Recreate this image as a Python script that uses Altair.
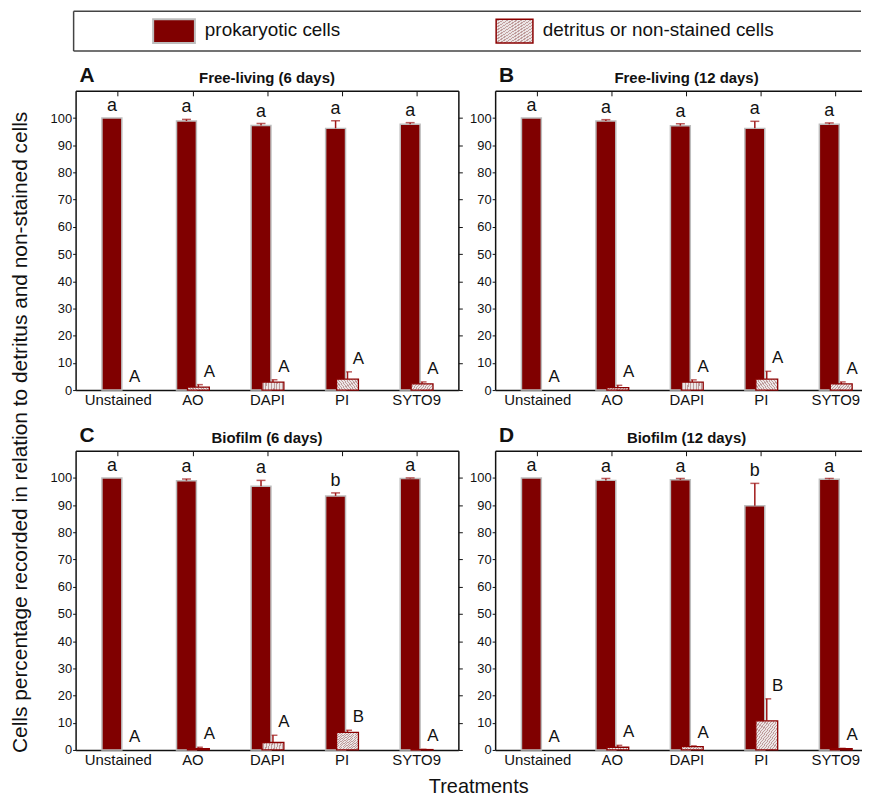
import json
import altair as alt
import pandas as pd

# ---------------- data ----------------
CATEGORIES = ["Unstained", "AO", "DAPI", "PI", "SYTO9"]
SERIES = ["prokaryotic cells", "detritus or non-stained cells"]
PANELS = ["A", "B", "C", "D"]
TITLES = ["Free-living (6 days)", "Free-living (12 days)", "Biofilm (6 days)", "Biofilm (12 days)"]
Y_TICKS = [0, 10, 20, 30, 40, 50, 60, 70, 80, 90, 100]

PROK_MEAN = {
    "A": [100, 98.9, 97.3, 96.2, 97.7],
    "B": [100, 98.9, 97.2, 96.2, 97.7],
    "C": [100, 99.0, 96.9, 93.4, 99.8],
    "D": [100, 99.1, 99.3, 89.8, 99.5],
}
PROK_UPPER = {
    "A": [100, 99.5, 98.0, 99.0, 98.3],
    "B": [100, 99.4, 97.9, 98.8, 98.2],
    "C": [100, 99.6, 99.1, 94.5, 100.0],
    "D": [100, 99.8, 99.8, 98.0, 99.8],
}
DET_MEAN = {
    "A": [0, 1.1, 2.9, 4.0, 2.3],
    "B": [0, 0.9, 2.9, 4.0, 2.25],
    "C": [0, 0.5, 2.75, 6.5, 0.15],
    "D": [0, 1.0, 1.2, 10.7, 0.5],
}
DET_UPPER = {
    "A": [0, 2.0, 3.8, 6.7, 3.0],
    "B": [0, 1.75, 3.75, 6.9, 3.0],
    "C": [0, 1.0, 5.4, 7.25, 0.25],
    "D": [0, 1.7, 1.5, 18.8, 0.6],
}
PROK_LETTERS = {
    "A": ["a", "a", "a", "a", "a"],
    "B": ["a", "a", "a", "a", "a"],
    "C": ["a", "a", "a", "b", "a"],
    "D": ["a", "a", "a", "b", "a"],
}
DET_LETTERS = {
    "A": ["A", "A", "A", "A", "A"],
    "B": ["A", "A", "A", "A", "A"],
    "C": ["A", "A", "A", "B", "A"],
    "D": ["A", "A", "A", "B", "A"],
}

Y_TITLE = "Cells percentage recorded in relation to detritus and non-stained cells"
X_TITLE = "Treatments"

# ---------------- style ----------------
RED = "#800000"
ERR = "#a01818"
FRAME = "#111111"
H = 301
STEP = 77
W_LEFT = 385
W_RIGHT = 369

n_str = 16
stops = []
for i in range(n_str):
    a = i / n_str
    b = (i + 0.6) / n_str
    c = (i + 1) / n_str
    stops += [
        alt.GradientStop(color="#ece5e5", offset=a),
        alt.GradientStop(color="#ece5e5", offset=b),
        alt.GradientStop(color="#bf9d9d", offset=b),
        alt.GradientStop(color="#bf9d9d", offset=c),
    ]
HATCH = alt.LinearGradient(gradient="linear", stops=stops, x1=0, y1=0, x2=1, y2=1)

LABEL_EXPR = json.dumps(CATEGORIES) + "[datum.value]"
IDX = list(range(len(CATEGORIES)))


def panel(key, title, width, left_col, bottom_row):
    dfp = pd.DataFrame({"idx": IDX, "treatment": CATEGORIES, "value": PROK_MEAN[key],
                        "upper": PROK_UPPER[key], "letter": PROK_LETTERS[key]})
    dfd = pd.DataFrame({"idx": IDX, "treatment": CATEGORIES, "value": DET_MEAN[key],
                        "upper": DET_UPPER[key], "letter": DET_LETTERS[key]})
    xs = alt.Scale(domain=[-0.5, -0.5 + width / STEP], nice=False, zero=False)
    ys = alt.Scale(domain=[0, 110], nice=False)

    def X(axis=None):
        return alt.X("idx:Q", scale=xs, axis=axis, title=None)

    def Y(field, axis=None):
        return alt.Y(field, scale=ys, axis=axis, title=None)

    bottom_axis = alt.Axis(
        orient="bottom", values=IDX, labelExpr=LABEL_EXPR, ticks=False, grid=False,
        domainColor=FRAME, domainWidth=1.5, labelFontSize=15, labelColor="#111",
        labelPadding=3, labelFlush=False, labelOverlap=False,
        title=X_TITLE if (bottom_row and left_col) else None,
        titleX=405, titleY=37, titleBaseline="middle", titleAlign="center",
        titleFontSize=20, titleFontWeight="normal", titleColor="#111",
    )
    left_axis = alt.Axis(
        orient="left", values=Y_TICKS, grid=False, tickSize=3, tickColor=FRAME,
        domainColor=FRAME, domainWidth=1.5, labelFontSize=13, labelColor="#111",
        labelPadding=1,
        title=Y_TITLE if (left_col and not bottom_row) else None,
        titleX=-55, titleY=343, titleBaseline="middle", titleAlign="center",
        titleFontSize=21, titleFontWeight="normal", titleColor="#111",
    )
    top_frame_axis = alt.Axis(
        orient="bottom", offset=-H, values=IDX, labels=False, tickSize=5,
        tickColor=FRAME, grid=False, domainColor=FRAME, domainWidth=1.5, title=None,
    )
    bottom_ticks_axis = alt.Axis(
        orient="top", offset=-H, values=IDX, labels=False, tickSize=4,
        tickColor=FRAME, grid=False, domain=False, title=None,
    )
    right_axis = None
    if left_col:
        right_axis = alt.Axis(
            orient="right", values=Y_TICKS, labels=False, tickSize=4, tickColor=FRAME,
            grid=False, domainColor=FRAME, domainWidth=1.5, title=None,
        )

    has_err = "datum.upper > datum.value"

    det_err_rule = alt.Chart(dfd).transform_filter(has_err).mark_rule(
        color=ERR, strokeWidth=1.5, xOffset=6
    ).encode(x=X(bottom_ticks_axis), y=Y("value:Q"), y2="upper:Q")
    det_err_cap = alt.Chart(dfd).transform_filter(has_err).mark_tick(
        color=ERR, orient="horizontal", size=9, thickness=1.5, xOffset=6
    ).encode(x=X(), y=Y("upper:Q"))

    prok_bars = alt.Chart(dfp).mark_bar(
        width=20, xOffset=-6, fill=RED, stroke="#bdbdbd", strokeWidth=1.5, orient="vertical"
    ).encode(x=X(bottom_axis), y=Y("value:Q", left_axis))

    det_bars = alt.Chart(dfd).transform_filter("datum.value > 0").mark_bar(
        width=22, xOffset=6, fill=HATCH, stroke="#8b0000", strokeWidth=1.3, orient="vertical"
    ).encode(x=X(top_frame_axis), y=Y("value:Q", right_axis))

    prok_err_rule = alt.Chart(dfp).transform_filter(has_err).mark_rule(
        color=ERR, strokeWidth=1.5, xOffset=-6
    ).encode(x=X(), y=Y("value:Q"), y2="upper:Q")
    prok_err_cap = alt.Chart(dfp).transform_filter(has_err).mark_tick(
        color=ERR, orient="horizontal", size=9, thickness=1.5, xOffset=-6
    ).encode(x=X(), y=Y("upper:Q"))

    prok_txt = alt.Chart(dfp).mark_text(
        fontSize=18, baseline="bottom", align="center", dy=-3, xOffset=-6, color="#111"
    ).encode(x=X(), y=Y("upper:Q"), text="letter:N")
    det_txt = alt.Chart(dfd).mark_text(
        fontSize=17, baseline="bottom", align="center", dy=-4, xOffset=17, color="#111"
    ).encode(x=X(), y=Y("upper:Q"), text="letter:N")

    title_txt = alt.Chart(pd.DataFrame({"t": [title]})).mark_text(
        fontSize=15, fontWeight="bold", align="center", baseline="alphabetic", color="#111"
    ).encode(x=alt.value(W_LEFT / 2), y=alt.value(-8), text="t:N")
    letter_txt = alt.Chart(pd.DataFrame({"t": [key]})).mark_text(
        fontSize=21, fontWeight="bold", align="left", baseline="alphabetic", color="#111"
    ).encode(x=alt.value(4), y=alt.value(-9), text="t:N")

    layers = [det_err_rule, det_err_cap, prok_bars, det_bars, prok_err_rule,
              prok_err_cap, prok_txt, det_txt, title_txt, letter_txt]

    if key == "A":
        one = pd.DataFrame({"k": [0]})
        box_c = "#444444"
        layers += [
            alt.Chart(one).mark_rule(color=box_c, strokeWidth=1.5).encode(
                x=alt.value(-2), x2=alt.value(790), y=alt.value(-80)),
            alt.Chart(one).mark_rule(color=box_c, strokeWidth=1.5).encode(
                x=alt.value(-2), x2=alt.value(790), y=alt.value(-40)),
            alt.Chart(one).mark_rule(color=box_c, strokeWidth=1.5).encode(
                x=alt.value(-2), y=alt.value(-80), y2=alt.value(-40)),
            alt.Chart(one).mark_rect(fill=RED, stroke="#bdbdbd", strokeWidth=2).encode(
                x=alt.value(78), x2=alt.value(120), y=alt.value(-72), y2=alt.value(-48)),
            alt.Chart(pd.DataFrame({"t": [SERIES[0]]})).mark_text(
                fontSize=19, align="left", baseline="middle", color="#111").encode(
                x=alt.value(130), y=alt.value(-61), text="t:N"),
            alt.Chart(one).mark_rect(fill=HATCH, stroke="#8b0000", strokeWidth=1.5).encode(
                x=alt.value(423), x2=alt.value(460), y=alt.value(-72), y2=alt.value(-48)),
            alt.Chart(pd.DataFrame({"t": [SERIES[1]]})).mark_text(
                fontSize=19, align="left", baseline="middle", color="#111").encode(
                x=alt.value(470), y=alt.value(-61), text="t:N"),
        ]

    return alt.layer(*layers).resolve_axis(x="independent", y="independent").properties(
        width=width, height=H
    )


charts = []
for i, key in enumerate(PANELS):
    left_col = i % 2 == 0
    bottom_row = i >= 2
    charts.append(panel(key, TITLES[i], W_LEFT if left_col else W_RIGHT, left_col, bottom_row))

chart = alt.concat(
    *charts, columns=2, spacing={"row": 61, "column": 37}, bounds="flush"
).properties(
    padding={"left": 2, "top": 0, "right": 0, "bottom": 0}
).configure(
    font="Liberation Sans"
).configure_view(stroke=None)

chart.save("out.html", embed_options={"renderer": "svg", "actions": False})
